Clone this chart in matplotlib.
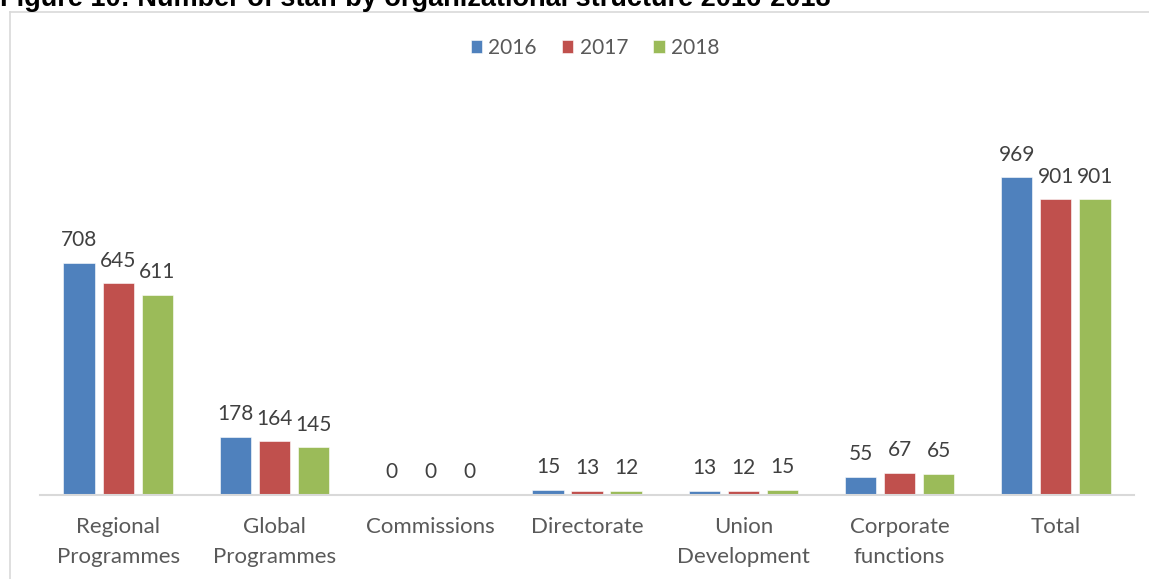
import matplotlib
matplotlib.use("Agg")
import matplotlib.pyplot as plt
from matplotlib.lines import Line2D
import numpy as np

plt.rcParams['font.family'] = ['Lato', 'DejaVu Sans']

categories = ["Regional\nProgrammes", "Global\nProgrammes", "Commissions", "Directorate",
              "Union\nDevelopment", "Corporate\nfunctions", "Total"]
years = ["2016", "2017", "2018"]
staff_2016 = [708, 178, 0, 15, 13, 55, 969]
staff_2017 = [645, 164, 0, 13, 12, 67, 901]
staff_2018 = [611, 145, 0, 12, 15, 65, 901]
colors = ["#4F81BD", "#C0504D", "#9BBB59"]

W, H = 1149, 579
fig = plt.figure(figsize=(W / 100, H / 100), dpi=100)

# plot area in pixel terms
left_px, right_px, base_px = 40, 1134, 495
ymax = 1100
scale = 0.328  # px per staff unit
top_px = base_px - ymax * scale
ax = fig.add_axes([left_px / W, (H - base_px) / H, (right_px - left_px) / W, (base_px - top_px) / H])

x = np.arange(len(categories))
width = 0.2
step = 0.25
series = [staff_2016, staff_2017, staff_2018]
for i, (vals, col, yr) in enumerate(zip(series, colors, years)):
    pos = x + (i - 1) * step
    ax.bar(pos, vals, width, color=col, label=yr, edgecolor='white', linewidth=0.4)
    for xp, v in zip(pos, vals):
        ax.annotate(str(v), (xp, v), xytext=(0, 12), textcoords='offset points',
                    ha='center', va='baseline', fontsize=15, color='#404040')

ax.set_xlim(-0.5, len(categories) - 0.5)
ax.set_ylim(0, ymax)
ax.set_yticks([])
ax.set_xticks(x)
ax.set_xticklabels(categories, fontsize=16, color='#595959', linespacing=1.6)
ax.tick_params(axis='x', length=0, pad=16)
for s in ['top', 'right', 'left']:
    ax.spines[s].set_visible(False)
ax.spines['bottom'].set_color('#D9D9D9')
ax.spines['bottom'].set_linewidth(1.5)

leg = ax.legend(loc='center', bbox_to_anchor=(595 / W, 1 - 48 / H), bbox_transform=fig.transFigure,
                ncol=3, frameon=False, fontsize=15, handlelength=0.55, handleheight=0.55,
                handletextpad=0.3, columnspacing=1.2)
for t in leg.get_texts():
    t.set_color('#595959')

# chart frame
fig.add_artist(Line2D([10 / W, 10 / W], [0, 1 - 12 / H], transform=fig.transFigure, color='#D9D9D9', lw=1.2))
fig.add_artist(Line2D([10 / W, 1], [1 - 12 / H, 1 - 12 / H], transform=fig.transFigure, color='#D9D9D9', lw=1.2))

fig.text(0, 1 - 6 / H, "Figure 10: Number of staff by organizational structure 2016-2018",
         fontsize=19.5, fontweight='bold', family='Liberation Sans', ha='left', va='baseline', color='black')

fig.savefig("out.png", dpi=100)
